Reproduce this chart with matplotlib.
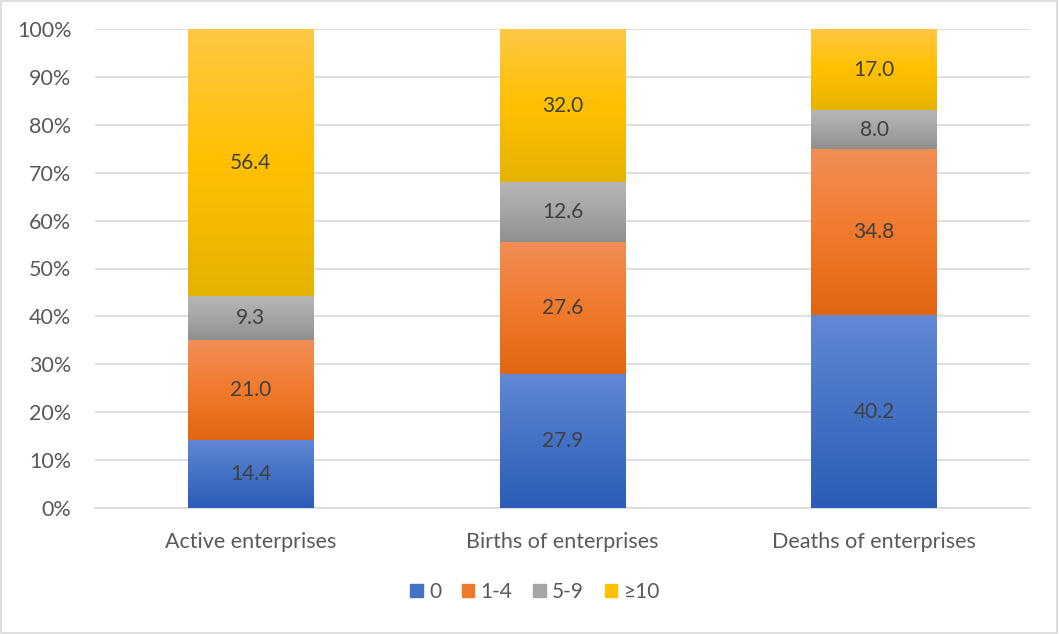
import numpy as np
import matplotlib.pyplot as plt
from matplotlib.colors import LinearSegmentedColormap
from matplotlib.patches import Rectangle

categories = ['Active enterprises', 'Births of enterprises', 'Deaths of enterprises']
size_classes = ['0', '1-4', '5-9', '≥10']
shares = {
    '0': [14.4, 27.9, 40.2],
    '1-4': [21.0, 27.6, 34.8],
    '5-9': [9.3, 12.6, 8.0],
    '≥10': [56.4, 32.0, 17.0],
}
# (top, middle, bottom) gradient stops per series
gradients = {
    '0': ('#6288D6', '#4472C4', '#2C5CB8'),
    '1-4': ('#F28E56', '#F07A2C', '#E26512'),
    '5-9': ('#B7B7B7', '#A5A5A5', '#8F8F8F'),
    '≥10': ('#FFC845', '#FFC000', '#E5B300'),
}

plt.rcParams['font.family'] = ['Lato', 'DejaVu Sans']
text_color = '#595959'

fig = plt.figure(figsize=(10.59, 6.34), dpi=100)
ax = fig.add_axes([95 / 1059, 1 - 508 / 634, 935 / 1059, 479 / 634])

x = np.arange(len(categories))
width = 0.404
# 100% stacked: each column is scaled to its own total
totals = np.sum([shares[k] for k in size_classes], axis=0)
bottom = np.zeros(len(categories))
grad = np.linspace(1, 0, 256).reshape(-1, 1)

for name in size_classes:
    vals = np.array(shares[name])
    pct = vals / totals * 100
    top_c, mid_c, bot_c = gradients[name]
    cmap = LinearSegmentedColormap.from_list(name, [bot_c, mid_c, top_c])
    bars = ax.bar(x, pct, width, bottom=bottom, color=mid_c, label=name, zorder=3)
    for bar, v, h, b in zip(bars, vals, pct, bottom):
        x0 = bar.get_x()
        im = ax.imshow(grad, cmap=cmap, aspect='auto', zorder=3.5,
                       extent=[x0, x0 + width, b, b + h], origin='upper')
        im.set_clip_path(bar)
        ax.text(x0 + width / 2, b + h / 2, f'{v:.1f}', ha='center', va='center',
                fontsize=15, color='#404040', zorder=5)
    bottom += pct

ax.set_xlim(-0.5, 2.5)
ax.set_ylim(0, 100)
ax.set_yticks(np.arange(0, 101, 10))
ax.set_yticklabels([f'{t}%' for t in range(0, 101, 10)])
ax.set_xticks(x)
ax.set_xticklabels(categories)
ax.tick_params(axis='both', length=0, labelsize=15.5, labelcolor=text_color)
ax.tick_params(axis='y', pad=17)
ax.tick_params(axis='x', pad=17)
ax.grid(axis='y', color='#D9D9D9', linewidth=1.2, zorder=0)
for s in ['top', 'right', 'left']:
    ax.spines[s].set_visible(False)
ax.spines['bottom'].set_color('#D9D9D9')
ax.spines['bottom'].set_linewidth(1.2)

handles = []
for name in size_classes:
    top_c, mid_c, bot_c = gradients[name]
    handles.append(Rectangle((0, 0), 1, 1, color=mid_c))
fig.legend(handles, size_classes, loc='center', bbox_to_anchor=(535 / 1059, 1 - 592 / 634),
           ncol=4, frameon=False, fontsize=15, labelcolor=text_color,
           handlelength=0.6, handleheight=0.6, handletextpad=0.3, columnspacing=1.0)

fig.patches.append(Rectangle((0.001, 0.001), 0.997, 0.997, transform=fig.transFigure,
                             fill=False, edgecolor='#D9D9D9', linewidth=1.2))

fig.savefig('out.png', dpi=100)
